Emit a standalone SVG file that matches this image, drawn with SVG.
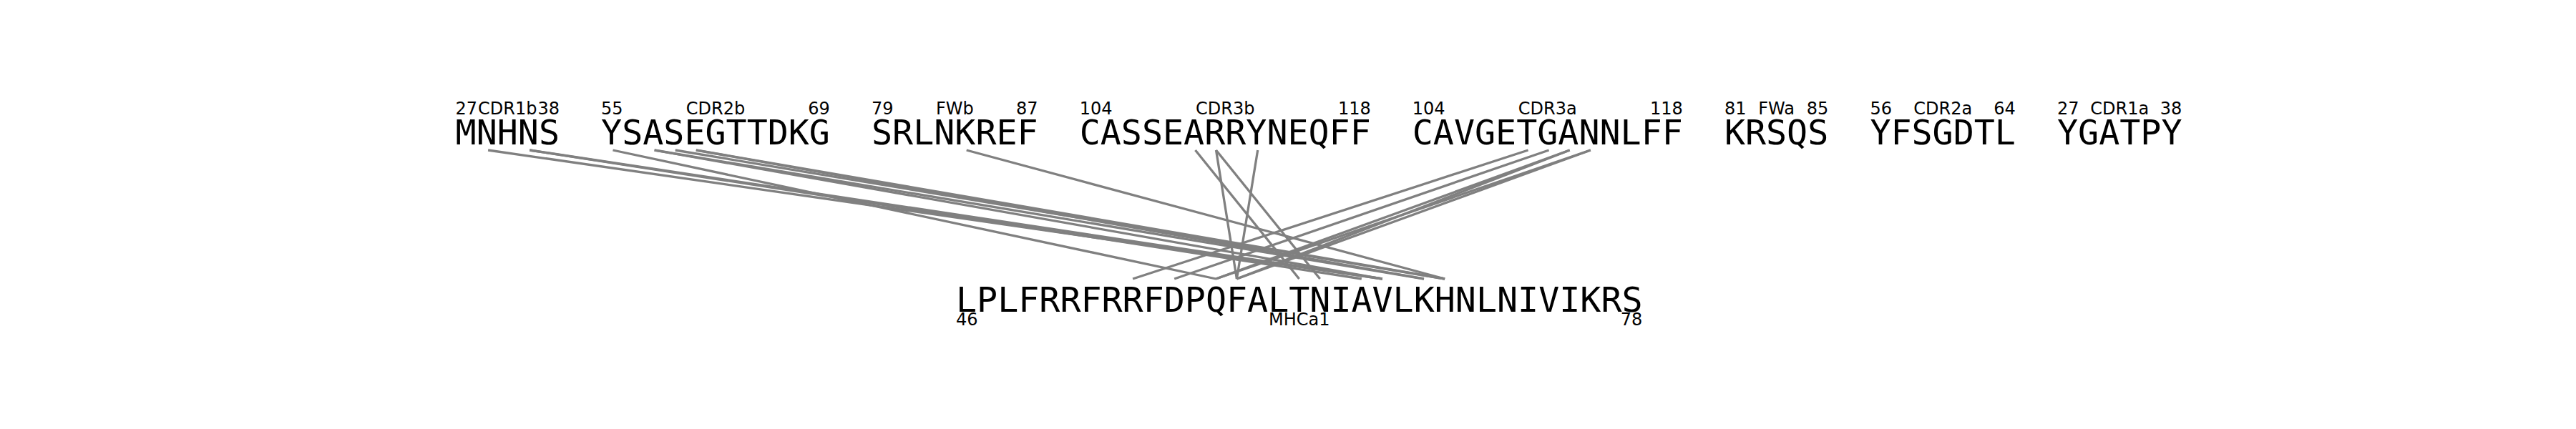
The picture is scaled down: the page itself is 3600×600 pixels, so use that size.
<svg xmlns="http://www.w3.org/2000/svg" width="3600" height="600" viewBox="0 0 3600 600">
<style>
.seq{font-family:"DejaVu Sans Mono",monospace;font-size:48.3px;fill:#000}
.lab{font-family:"DejaVu Sans",sans-serif;font-size:24px;fill:#000}
.s{text-anchor:start}.m{text-anchor:middle}.e{text-anchor:end}
#links line{stroke:#808080;stroke-width:3.3}
</style>
<rect width="3600" height="600" fill="#fff"/>
<g id="links">
<line x1="682.1" y1="210" x2="1931.9" y2="390"/>
<line x1="740.2" y1="210" x2="1902.8" y2="390"/>
<line x1="740.2" y1="210" x2="1931.9" y2="390"/>
<line x1="856.5" y1="210" x2="1699.3" y2="390"/>
<line x1="914.6" y1="210" x2="1931.9" y2="390"/>
<line x1="914.6" y1="210" x2="1990.0" y2="390"/>
<line x1="943.7" y1="210" x2="2019.1" y2="390"/>
<line x1="972.8" y1="210" x2="1990.0" y2="390"/>
<line x1="972.8" y1="210" x2="2019.1" y2="390"/>
<line x1="1350.7" y1="210" x2="2019.1" y2="390"/>
<line x1="1670.5" y1="210" x2="1815.6" y2="390"/>
<line x1="1699.5" y1="210" x2="1728.4" y2="390"/>
<line x1="1699.5" y1="210" x2="1844.7" y2="390"/>
<line x1="1757.7" y1="210" x2="1728.4" y2="390"/>
<line x1="2135.6" y1="210" x2="1583.1" y2="390"/>
<line x1="2164.6" y1="210" x2="1641.2" y2="390"/>
<line x1="2193.7" y1="210" x2="1699.3" y2="390"/>
<line x1="2193.7" y1="210" x2="1728.4" y2="390"/>
<line x1="2222.8" y1="210" x2="1699.3" y2="390"/>
<line x1="2222.8" y1="210" x2="1728.4" y2="390"/>
</g>
<g id="seq-CDR1b">
<text class="seq" x="636.6" y="202">MNHNS</text>
<text class="lab s" x="636.6" y="160">27</text>
<text class="lab m" x="709.3" y="160">CDR1b</text>
<text class="lab e" x="781.95" y="160">38</text>
</g>
<g id="seq-CDR2b">
<text class="seq" x="840.1" y="202">YSASEGTTDKG</text>
<text class="lab s" x="840.1" y="160">55</text>
<text class="lab m" x="1000.0" y="160">CDR2b</text>
<text class="lab e" x="1159.9" y="160">69</text>
</g>
<g id="seq-FWb">
<text class="seq" x="1218.0" y="202">SRLNKREF</text>
<text class="lab s" x="1218.0" y="160">79</text>
<text class="lab m" x="1334.3" y="160">FWb</text>
<text class="lab e" x="1450.6" y="160">87</text>
</g>
<g id="seq-CDR3b">
<text class="seq" x="1508.7" y="202">CASSEARRYNEQFF</text>
<text class="lab s" x="1508.7" y="160">104</text>
<text class="lab m" x="1712.2" y="160">CDR3b</text>
<text class="lab e" x="1915.7" y="160">118</text>
</g>
<g id="seq-CDR3a">
<text class="seq" x="1973.8" y="202">CAVGETGANNLFF</text>
<text class="lab s" x="1973.8" y="160">104</text>
<text class="lab m" x="2162.8" y="160">CDR3a</text>
<text class="lab e" x="2351.7" y="160">118</text>
</g>
<g id="seq-FWa">
<text class="seq" x="2409.9" y="202">KRSQS</text>
<text class="lab s" x="2409.9" y="160">81</text>
<text class="lab m" x="2482.6" y="160">FWa</text>
<text class="lab e" x="2555.2" y="160">85</text>
</g>
<g id="seq-CDR2a">
<text class="seq" x="2613.4" y="202">YFSGDTL</text>
<text class="lab s" x="2613.4" y="160">56</text>
<text class="lab m" x="2715.2" y="160">CDR2a</text>
<text class="lab e" x="2816.9" y="160">64</text>
</g>
<g id="seq-CDR1a">
<text class="seq" x="2875.0" y="202">YGATPY</text>
<text class="lab s" x="2875.0" y="160">27</text>
<text class="lab m" x="2962.2" y="160">CDR1a</text>
<text class="lab e" x="3049.4" y="160">38</text>
</g>
<g id="seq-MHCa1">
<text class="seq" x="1336.0" y="436">LPLFRRFRRFDPQFALTNIAVLKHNLNIVIKRS</text>
<text class="lab s" x="1336.0" y="455">46</text>
<text class="lab m" x="1815.7" y="455">MHCa1</text>
<text class="lab e" x="2295.3" y="455">78</text>
</g>
</svg>
